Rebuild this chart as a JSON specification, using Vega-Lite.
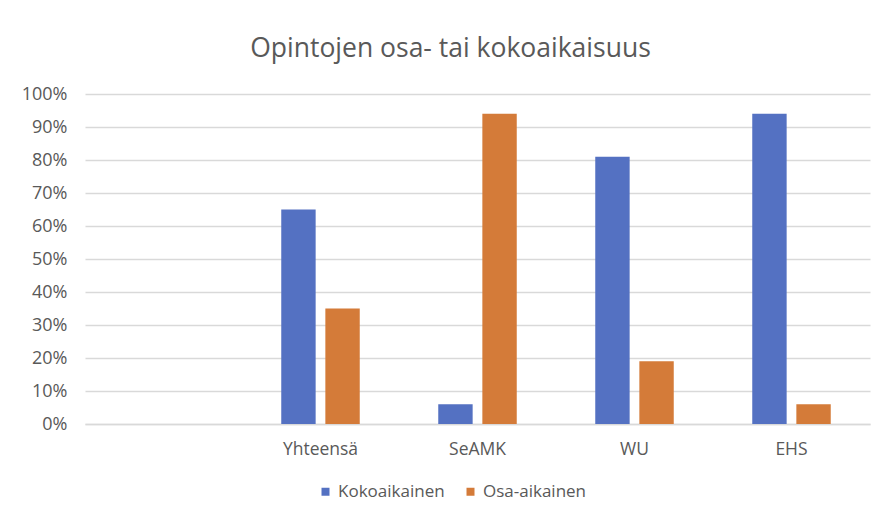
{
  "$schema": "https://vega.github.io/schema/vega-lite/v6.json",
  "autosize": {"type": "none"},
  "width": 785,
  "height": 330,
  "padding": {"left": 85, "top": 94, "right": 16, "bottom": 99},
  "background": "white",
  "title": {
    "text": "Opintojen osa- tai kokoaikaisuus",
    "font": "Open Sans",
    "fontSize": 26.5,
    "fontWeight": "normal",
    "color": "#595959",
    "anchor": "middle",
    "dx": -27,
    "offset": 23
  },
  "data": {
    "values": [
      {"ryhma": "Yhteensä", "tyyppi": "Kokoaikainen", "osuus": 0.65},
      {"ryhma": "Yhteensä", "tyyppi": "Osa-aikainen", "osuus": 0.35},
      {"ryhma": "SeAMK", "tyyppi": "Kokoaikainen", "osuus": 0.06},
      {"ryhma": "SeAMK", "tyyppi": "Osa-aikainen", "osuus": 0.94},
      {"ryhma": "WU", "tyyppi": "Kokoaikainen", "osuus": 0.81},
      {"ryhma": "WU", "tyyppi": "Osa-aikainen", "osuus": 0.19},
      {"ryhma": "EHS", "tyyppi": "Kokoaikainen", "osuus": 0.94},
      {"ryhma": "EHS", "tyyppi": "Osa-aikainen", "osuus": 0.06}
    ]
  },
  "mark": {"type": "bar"},
  "encoding": {
    "x": {
      "field": "ryhma",
      "type": "nominal",
      "sort": null,
      "scale": {"domain": [" ", "Yhteensä", "SeAMK", "WU", "EHS"], "paddingInner": 0.5, "paddingOuter": 0.25},
      "axis": {
        "title": null,
        "labelAngle": 0,
        "labelFont": "Open Sans",
        "labelFontSize": 17.5,
        "labelColor": "#595959",
        "labelPadding": 16,
        "ticks": false,
        "domainColor": "#d9d9d9",
        "domainWidth": 1.5,
        "grid": false
      }
    },
    "xOffset": {
      "field": "tyyppi",
      "type": "nominal",
      "scale": {"paddingInner": 0.22, "paddingOuter": 0}
    },
    "y": {
      "field": "osuus",
      "type": "quantitative",
      "scale": {"domain": [0, 1], "nice": false},
      "axis": {
        "title": null,
        "format": ".0%",
        "values": [0, 0.1, 0.2, 0.3, 0.4, 0.5, 0.6, 0.7, 0.8, 0.9, 1],
        "labelFont": "Open Sans",
        "labelFontSize": 18,
        "labelColor": "#595959",
        "labelPadding": 18,
        "ticks": false,
        "domain": false,
        "gridColor": "#d9d9d9",
        "gridWidth": 1.5
      }
    },
    "color": {
      "field": "tyyppi",
      "type": "nominal",
      "scale": {"domain": ["Kokoaikainen", "Osa-aikainen"], "range": ["#5471C2", "#D47B39"]},
      "legend": {
        "title": null,
        "orient": "none",
        "legendX": 232,
        "legendY": 389,
        "direction": "horizontal",
        "symbolType": "square",
        "symbolSize": 64,
        "symbolStrokeWidth": 0,
        "labelFont": "Open Sans",
        "labelFontSize": 17,
        "labelColor": "#595959",
        "labelOffset": 4,
        "columnPadding": 17
      }
    }
  },
  "config": {
    "view": {"stroke": null}
  }
}
